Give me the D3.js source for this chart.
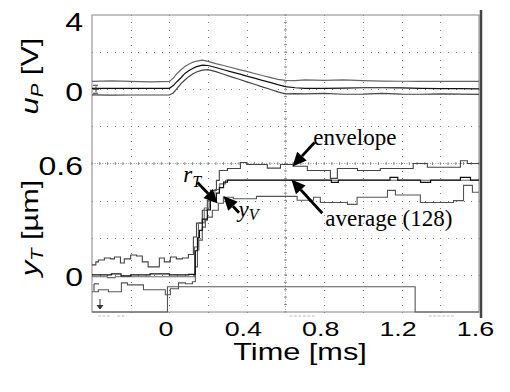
<!DOCTYPE html>
<html>
<head>
<meta charset="utf-8">
<script src="https://cdn.jsdelivr.net/npm/d3@7"></script>
<style>
  body { margin: 0; background: #fff; }
  svg { display: block; font-family: "Liberation Sans", Arial, sans-serif; }
</style>
</head>
<body>
<svg id="chart" width="510" height="392"></svg>
<script>
// ---- data (time in ms) ----
// upper panel: u_P [V]
const upTime = [-0.4, -0.3, -0.2, -0.1, 0.0, 0.02, 0.04, 0.06, 0.08, 0.1, 0.12, 0.14, 0.17, 0.2, 0.24, 0.28,
  0.32, 0.36, 0.4, 0.44, 0.48, 0.52, 0.56, 0.6, 0.65, 0.7, 0.8, 0.9, 1.0, 1.1, 1.2, 1.3, 1.4, 1.5, 1.6];
const upAvg = [0.05, 0.05, 0.05, 0.05, 0.05, 0.2, 0.42, 0.62, 0.85, 1.0, 1.12, 1.22, 1.3, 1.28, 1.17, 1.05,
  0.94, 0.83, 0.71, 0.6, 0.48, 0.37, 0.25, 0.14, 0.08, 0.05, 0.05, 0.06, 0.08, 0.08, 0.07, 0.05, 0.03, 0.03, 0.02];
const upHi = [0.42, 0.45, 0.42, 0.4, 0.42, 0.6, 0.85, 1.05, 1.22, 1.35, 1.45, 1.52, 1.57, 1.5, 1.38, 1.28,
  1.17, 1.06, 0.96, 0.85, 0.74, 0.64, 0.53, 0.48, 0.46, 0.5, 0.48, 0.5, 0.47, 0.44, 0.43, 0.42, 0.42, 0.42, 0.42];
const upLo = [-0.3, -0.32, -0.31, -0.31, -0.31, -0.2, 0.05, 0.3, 0.5, 0.68, 0.82, 0.93, 1.03, 1.06, 0.95, 0.81,
  0.67, 0.54, 0.4, 0.27, 0.13, 0.0, -0.14, -0.25, -0.24, -0.25, -0.22, -0.27, -0.26, -0.22, -0.26, -0.27, -0.25, -0.26, -0.28];

// lower panel: y_T [um], step traces
const hiTime = [-0.4, -0.38, -0.367, -0.336, -0.305, -0.284, -0.253, -0.233, -0.2, -0.17, -0.14, -0.11, -0.052,
  -0.026, 0.005, 0.036, 0.067, 0.098, 0.124, 0.14, 0.17, 0.196, 0.212, 0.243, 0.258, 0.3, 0.367, 0.4, 0.506,
  0.574, 0.64, 0.713, 0.832, 0.868, 0.972, 1.09, 1.26, 1.333, 1.504, 1.54, 1.6];
const hiVal = [0.054, 0.07, 0.08, 0.091, 0.086, 0.096, 0.064, 0.086, 0.107, 0.102, 0.07, 0.043, 0.091,
  0.07, 0.096, 0.086, 0.091, 0.11, 0.204, 0.279, 0.348, 0.402, 0.455, 0.509, 0.562, 0.573, 0.605, 0.595, 0.575,
  0.595, 0.585, 0.562, 0.52, 0.573, 0.562, 0.573, 0.6, 0.58, 0.615, 0.6, 0.6];

const loTime = [-0.4, -0.367, -0.315, -0.248, -0.217, -0.134, -0.021, 0.005, 0.047, 0.083, 0.119, 0.134, 0.145,
  0.152, 0.17, 0.186, 0.196, 0.222, 0.253, 0.279, 0.33, 0.45, 0.66, 0.745, 0.78, 0.92, 0.97, 1.127, 1.168,
  1.297, 1.468, 1.52, 1.566, 1.6];
const loVal = [-0.091, -0.08, -0.091, -0.043, -0.054, -0.08, -0.107, -0.075, -0.043, -0.048, -0.037, 0.043, 0.134,
  0.187, 0.257, 0.295, 0.311, 0.348, 0.386, 0.418, 0.41, 0.423, 0.402, 0.418, 0.39, 0.38, 0.418, 0.455, 0.43,
  0.39, 0.4, 0.482, 0.445, 0.445];

const avgTime = [-0.4, -0.3, -0.25, -0.2, -0.1, 0.0, 0.1, 0.134, 0.145, 0.155, 0.17, 0.196, 0.212, 0.243, 0.258,
  0.28, 0.3, 0.837, 0.873, 1.14, 1.18, 1.298, 1.35, 1.504, 1.556, 1.6];
const avgVal = [0.0, 0.005, -0.005, 0.0, 0.005, 0.0, 0.003, 0.13, 0.2, 0.24, 0.3, 0.35, 0.4, 0.44, 0.47,
  0.5, 0.51, 0.498, 0.51, 0.525, 0.51, 0.498, 0.51, 0.525, 0.51, 0.51];

const refTime = [-0.4, -0.32, -0.28, 0.13, 0.15, 0.18, 0.205, 0.235, 0.26, 0.29, 1.6];
const refVal = [-0.01, -0.015, -0.01, 0.15, 0.28, 0.36, 0.42, 0.46, 0.49, 0.51, 0.51];

const trigTime = [-0.4, -0.01, 1.27, 1.6];
const trigVal = [-0.2, -0.064, -0.2, -0.2];

// ticks
const timeTicks = [0, 0.4, 0.8, 1.2, 1.6];
const upTicks = [4, 0];
const ytTicks = [0.6, 0];

// annotations (data coords: t, y_T)
const notes = [
  { text: "envelope", t: 0.744, v: 0.702, from: [0.75, 0.713], to: [0.636, 0.584] },
  { text: "average (128)", t: 0.806, v: 0.263, from: [0.79, 0.332], to: [0.63, 0.514] }
];
const subNotes = [
  { main: "r", sub: "T", t: 0.072, v: 0.498, dy: 5, from: [0.145, 0.498], to: [0.25, 0.384] },
  { main: "y", sub: "V", t: 0.357, v: 0.311, dy: 3, from: [0.36, 0.335], to: [0.279, 0.425] }
];

// ---- drawing ----
const svg = d3.select("#chart");
const pL = 92, pR = 479, pT = 15, pB = 312;
const wide = 1.28;   // the sans text in the figure is stretched sideways

const x = d3.scaleLinear().domain([-0.4, 1.6]).range([pL, pR]);
const yU = d3.scaleLinear().domain([-12, 4]).range([pB, pT]);
const yT = d3.scaleLinear().domain([-0.2, 1.4]).range([pB, pT]);

// grid dots
const grid = svg.append("g");
const xDiv = d3.range(-0.4, 1.6001, 0.2);
const yDiv = d3.range(-0.2, 1.4001, 0.2);
const subX = d3.range(-0.4, 1.6001, 0.04);
const subY = d3.range(-0.2, 1.4001, 0.04);

xDiv.slice(1, -1).forEach(function (t) {
  if (Math.abs(t - 0.6) < 1e-6) return;
  subY.forEach(function (v) {
    grid.append("rect").attr("x", Math.round(x(t))).attr("y", Math.round(yT(v)))
      .attr("width", 1).attr("height", 1).attr("fill", "#777");
  });
});
yDiv.slice(1, -1).forEach(function (v) {
  if (Math.abs(v - 0.6) < 1e-6) return;
  subX.forEach(function (t) {
    grid.append("rect").attr("x", Math.round(x(t))).attr("y", Math.round(yT(v)))
      .attr("width", 1).attr("height", 1).attr("fill", "#777");
  });
});

// center cross lines (denser)
grid.append("line")
  .attr("x1", pL).attr("x2", pR).attr("y1", yT(0.6)).attr("y2", yT(0.6))
  .attr("stroke", "#999").attr("stroke-width", 1).attr("stroke-dasharray", "1 1.6");
grid.append("line")
  .attr("x1", x(0.6)).attr("x2", x(0.6)).attr("y1", pT).attr("y2", pB)
  .attr("stroke", "#999").attr("stroke-width", 1).attr("stroke-dasharray", "1 1.6");
subX.forEach(function (t) {
  grid.append("line").attr("x1", x(t)).attr("x2", x(t))
    .attr("y1", yT(0.6) - 1.5).attr("y2", yT(0.6) + 1.5).attr("stroke", "#888");
});
subY.forEach(function (v) {
  grid.append("line").attr("x1", x(0.6) - 1.5).attr("x2", x(0.6) + 1.5)
    .attr("y1", yT(v)).attr("y2", yT(v)).attr("stroke", "#888");
});

// frame
svg.append("rect")
  .attr("x", pL).attr("y", pT).attr("width", pR - pL).attr("height", pB - pT)
  .attr("fill", "none").attr("stroke", "#999").attr("stroke-width", 1.2);
svg.append("line")
  .attr("x1", pR + 2).attr("x2", pR + 2).attr("y1", pT - 5).attr("y2", pB + 6)
  .attr("stroke", "#444").attr("stroke-width", 2.5);

// readout smudges below frame
[[-0.37, -0.3], [-0.27, -0.22], [0.62, 0.75], [1.34, 1.48]].forEach(function (r) {
  svg.append("line").attr("x1", x(r[0])).attr("x2", x(r[1]))
    .attr("y1", pB + 4).attr("y2", pB + 4)
    .attr("stroke", "#bbb").attr("stroke-width", 1.2).attr("stroke-dasharray", "3 1.5");
});

// traces
const traces = svg.append("g").attr("fill", "none");
function pts(ts, vs) { return ts.map(function (t, i) { return [t, vs[i]]; }); }

const lineU = d3.line().x(function (d) { return x(d[0]); }).y(function (d) { return yU(d[1]); });
const lineT = d3.line().x(function (d) { return x(d[0]); }).y(function (d) { return yT(d[1]); })
  .curve(d3.curveStepAfter);

traces.append("path").attr("d", lineU(pts(upTime, upHi))).attr("stroke", "#666").attr("stroke-width", 1.2);
traces.append("path").attr("d", lineU(pts(upTime, upLo))).attr("stroke", "#444").attr("stroke-width", 1.2);
traces.append("path").attr("d", lineU(pts(upTime, upAvg))).attr("stroke", "#111").attr("stroke-width", 1.2);

traces.append("path").attr("d", lineT(pts(trigTime, trigVal))).attr("stroke", "#555").attr("stroke-width", 1.1);
traces.append("path").attr("d", lineT(pts(hiTime, hiVal))).attr("stroke", "#444").attr("stroke-width", 1.1);
traces.append("path").attr("d", lineT(pts(loTime, loVal))).attr("stroke", "#555").attr("stroke-width", 1.1);
traces.append("path").attr("d", lineT(pts(refTime, refVal))).attr("stroke", "#666").attr("stroke-width", 1.1);
traces.append("path").attr("d", lineT(pts(avgTime, avgVal))).attr("stroke", "#111").attr("stroke-width", 1.2);

// channel markers on left edge
const mk = svg.append("g").attr("fill", "none").attr("stroke", "#333").attr("stroke-width", 1);
mk.append("path").attr("d", "M" + (pL + 1) + "," + (yU(0) - 4) + "h5M" + (pL + 1) + "," + (yU(0) + 4) +
  "h5M" + (pL + 1) + "," + yU(0) + "h6M" + (pL + 4) + "," + (yU(0) - 3) + "v6");
mk.append("path").attr("d", "M" + (pL + 2) + "," + (yT(-0.07) - 4) + "v7M" + (pL + 2) + "," + (yT(-0.07) - 4) + "h5");
mk.append("path").attr("d", "M" + (pL + 8) + "," + (yT(-0.13)) + "v9");
mk.append("path").attr("d", "M" + (pL + 5) + "," + (yT(-0.13) + 6) + "l3,4l3,-4").attr("fill", "#333");

// axes
const axU = svg.append("g").attr("transform", "translate(" + pL + ",0)")
  .call(d3.axisLeft(yU).tickValues(upTicks).tickSize(0).tickFormat(d3.format("d")));
const axT = svg.append("g").attr("transform", "translate(" + pL + ",0)")
  .call(d3.axisLeft(yT).tickValues(ytTicks).tickSize(0).tickFormat(function (d) { return d === 0 ? "0" : d; }));
const axX = svg.append("g").attr("transform", "translate(0," + pB + ")")
  .call(d3.axisBottom(x).tickValues(timeTicks).tickSize(0).tickPadding(9).tickFormat(function (d) { return d === 0 ? "0" : d; }));

[axU, axT, axX].forEach(function (a) {
  a.select(".domain").remove();
  a.selectAll("text").attr("fill", "#000").attr("font-family", "'Liberation Sans', Arial, sans-serif")
    .attr("transform", "scale(" + wide + ",1)");
});
axU.selectAll("text").attr("font-size", 25).attr("x", -9 / wide)
  .attr("dy", function (d) { return d === 4 ? "0.6em" : "0.43em"; });
axT.selectAll("text").attr("font-size", 25).attr("x", -9 / wide).attr("dy", "0.44em");
axX.selectAll("text").attr("font-size", 21).attr("dx", -4 / wide);

// axis titles
const tU = svg.append("text").attr("transform", "translate(38,76) rotate(-90) scale(" + wide + ",1)")
  .attr("text-anchor", "middle").attr("font-size", 24);
tU.append("tspan").attr("font-style", "italic").text("u");
tU.append("tspan").attr("font-style", "italic").attr("font-size", 16).attr("dy", 5).text("P");
tU.append("tspan").attr("dy", -5).text(" [V]");

const tT = svg.append("text").attr("transform", "translate(38,228) rotate(-90) scale(" + wide + ",1)")
  .attr("text-anchor", "middle").attr("font-size", 24);
tT.append("tspan").attr("font-style", "italic").text("y");
tT.append("tspan").attr("font-style", "italic").attr("font-size", 16).attr("dy", 5).text("T");
tT.append("tspan").attr("dy", -5).text(" [\u00b5m]");

svg.append("text").attr("transform", "translate(300,360) scale(" + wide + ",1)")
  .attr("text-anchor", "middle").attr("font-size", 24).text("Time [ms]");

// annotations
const ann = svg.append("g").attr("font-family", "'Liberation Serif', 'Times New Roman', serif");
function arrow(from, to) {
  const x0 = x(from[0]), y0 = yT(from[1]), x1 = x(to[0]), y1 = yT(to[1]);
  const a = Math.atan2(y1 - y0, x1 - x0), L = 14, W = 6.5;
  const bx = x1 - L * Math.cos(a), by = y1 - L * Math.sin(a);
  ann.append("line").attr("x1", x0).attr("y1", y0).attr("x2", bx).attr("y2", by)
    .attr("stroke", "#000").attr("stroke-width", 2.8);
  ann.append("path")
    .attr("d", "M" + x1 + "," + y1 + "L" + (bx + W * Math.sin(a)) + "," + (by - W * Math.cos(a)) +
      "L" + (bx - W * Math.sin(a)) + "," + (by + W * Math.cos(a)) + "Z")
    .attr("fill", "#000");
}
notes.forEach(function (n) {
  ann.append("text").attr("x", x(n.t)).attr("y", yT(n.v)).attr("font-size", 23).text(n.text);
  arrow(n.from, n.to);
});
subNotes.forEach(function (n) {
  const t = ann.append("text").attr("x", x(n.t)).attr("y", yT(n.v)).attr("font-size", 23)
    .attr("font-style", "italic");
  t.append("tspan").text(n.main);
  t.append("tspan").attr("font-size", 16).attr("dy", n.dy).text(n.sub);
  arrow(n.from, n.to);
});
</script>
</body>
</html>
